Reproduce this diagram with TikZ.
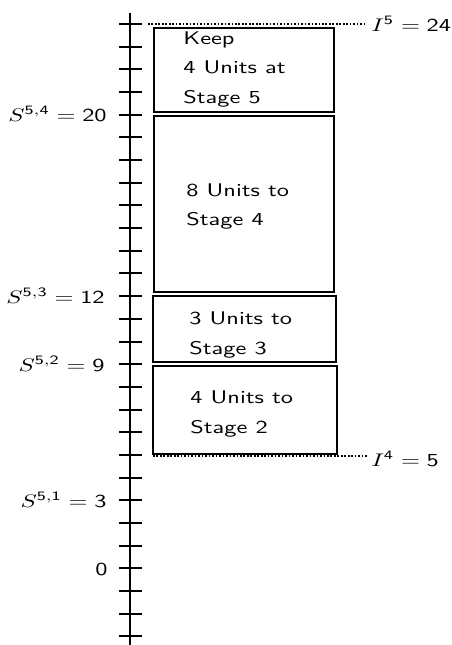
\documentclass[tikz,border=0pt]{standalone}
\usepackage{graphicx}
\usetikzlibrary{fit}
\newcommand{\sx}[1]{\scalebox{1.33}[1]{#1}}
\begin{document}
\begin{tikzpicture}[x=0.546pt,y=-0.546pt,
  box/.style={draw, line width=0.8pt, inner sep=0pt},
  txt/.style={font=\sffamily\fontsize{10}{16}\selectfont, align=left, inner sep=0pt, anchor=west},
  lab/.style={font=\sffamily\fontsize{10}{12}\selectfont, inner sep=0pt},
  guide/.style={densely dotted, line width=0.9pt},
  axisline/.style={line width=0.8pt}]
\useasboundingbox (0,0) rectangle (452,645);
% axis
\coordinate (atop) at (130,13);
\coordinate (abot) at (130,645);
\draw[axisline] (atop) -- (abot);
\foreach \k in {-3,...,24}
  \draw[axisline] (119,{round(568.3-22.68*\k)}) -- (142,{round(568.3-22.68*\k)});
% boxes
\coordinate (b1a) at (154,28);  \coordinate (b1b) at (334,112);
\coordinate (b2a) at (154,116); \coordinate (b2b) at (334,292);
\coordinate (b3a) at (153,296); \coordinate (b3b) at (336,362);
\coordinate (b4a) at (153,366); \coordinate (b4b) at (337,454);
\node[box, fit=(b1a)(b1b)] (box1) {};
\node[box, fit=(b2a)(b2b)] (box2) {};
\node[box, fit=(b3a)(b3b)] (box3) {};
\node[box, fit=(b4a)(b4b)] (box4) {};
% box texts
\node[txt] (t1) at (183,69.5) {\sx{Keep}\\\sx{4 Units at}\\\sx{Stage 5}};
\node[txt] (t2) at (186,206.5) {\sx{8 Units to}\\\sx{Stage 4}};
\node[txt] (t3) at (189,335) {\sx{3 Units to}\\\sx{Stage 3}};
\node[txt] (t4) at (190,414) {\sx{4 Units to}\\\sx{Stage 2}};
% left labels
\node[lab, anchor=base east] (s54) at (107,121.2) {\sx{$S^{\mathsf{5,4}}=\mathsf{20}$}};
\node[lab, anchor=base east] (s53) at (105,303.2) {\sx{$S^{\mathsf{5,3}}=\mathsf{12}$}};
\node[lab, anchor=base east] (s52) at (105,371) {\sx{$S^{\mathsf{5,2}}=\mathsf{9}$}};
\node[lab, anchor=base east] (s51) at (107,507) {\sx{$S^{\mathsf{5,1}}=\mathsf{3}$}};
\node[lab, anchor=base east] (s0) at (108,575) {\sx{0}};
% right labels and guides
\node[lab, anchor=base west] (i5) at (371,31.5) {\sx{$I^{\mathsf{5}}=\mathsf{24}$}};
\node[lab, anchor=base west] (i4) at (371,466.5) {\sx{$I^{\mathsf{4}}=\mathsf{5}$}};
\coordinate (g5a) at (148,24);  \coordinate (g5b) at (365,24);
\coordinate (g4a) at (153,456); \coordinate (g4b) at (367,456);
\draw[guide] (g5a) -- (g5b);
\draw[guide] (g4a) -- (g4b);
\end{tikzpicture}
\end{document}
